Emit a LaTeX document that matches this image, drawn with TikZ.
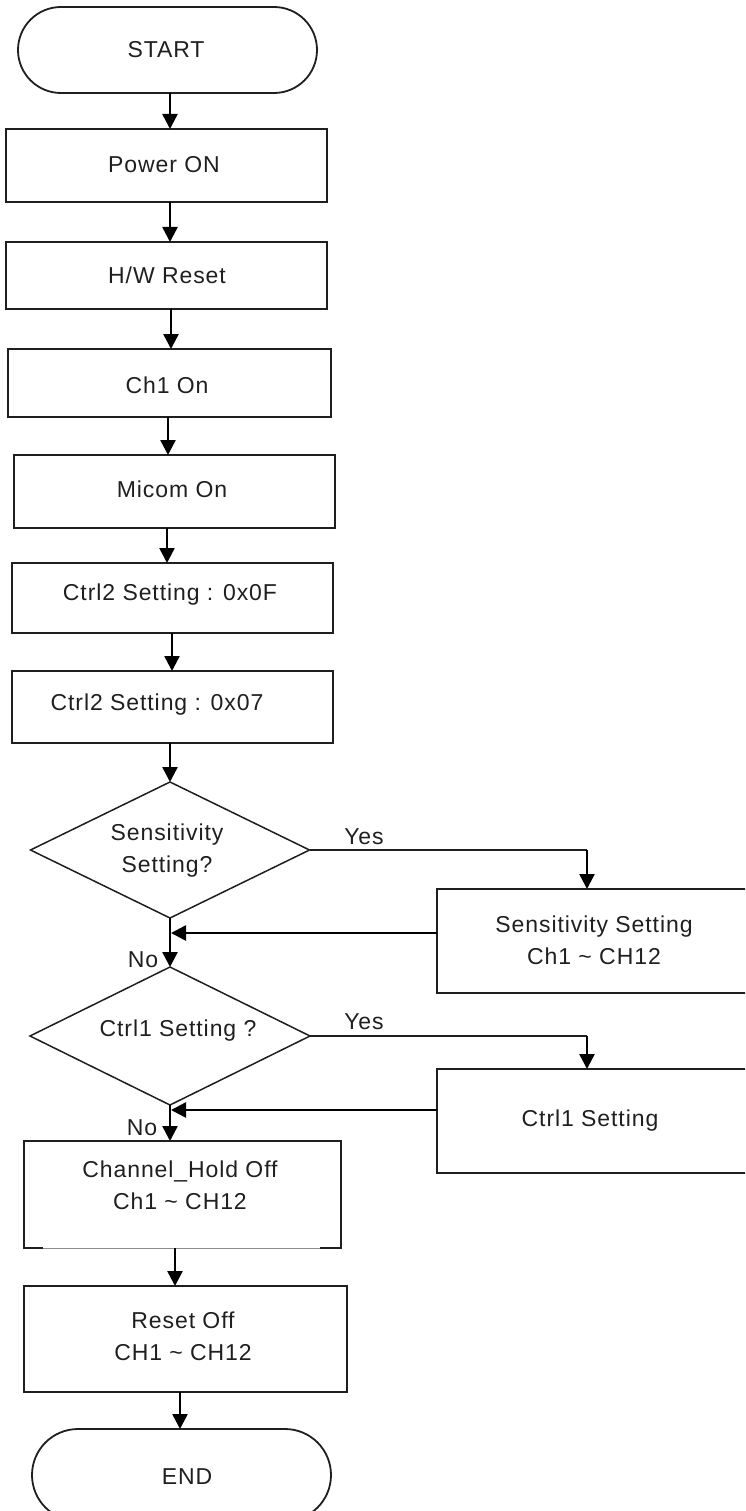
\documentclass[tikz,border=0pt]{standalone}
\usepackage{fontspec}
\setmainfont{Liberation Sans}[LetterSpace=4]
\usetikzlibrary{arrows.meta,shapes.geometric}
\begin{document}
\begin{tikzpicture}[x=1pt,y=-1pt,
  every node/.style={font=\fontsize{23}{32}\selectfont, text=black!88},
  box/.style={draw=black!88, line width=1.8pt, inner sep=0pt, outer sep=0pt},
  term/.style={box, rounded corners=43pt},
  dec/.style={draw=black!88, line width=1.5pt, diamond, inner sep=0pt, outer sep=0pt},
  txt/.style={align=center, inner sep=0pt},
  arr/.style={draw=black, line width=2.5pt, -{Triangle[length=15pt,width=15pt]}},
  yesln/.style={draw=black!88, line width=1.5pt}
]
\useasboundingbox (0,0) rectangle (745,1511);
\clip (0,0) rectangle (745,1511);

% shapes
\node[term, minimum width=299pt, minimum height=86pt] (start) at (167.5,50) {};
\node[box, minimum width=321pt, minimum height=73pt] (pwr) at (166.5,165.5) {};
\node[box, minimum width=321pt, minimum height=67pt] (hw) at (166.5,275.5) {};
\node[box, minimum width=323pt, minimum height=68pt] (ch1) at (169.5,383) {};
\node[box, minimum width=321pt, minimum height=73pt] (mic) at (174.5,491.5) {};
\node[box, minimum width=321pt, minimum height=70pt] (c2f) at (172.5,598) {};
\node[box, minimum width=321pt, minimum height=72pt] (c27) at (172.5,707) {};
\node[dec, minimum width=279pt, minimum height=136pt] (d1) at (170,850) {};
\node[box, minimum width=318pt, minimum height=104pt] (sens) at (596,941) {};
\node[dec, minimum width=280pt, minimum height=138pt] (d2) at (170,1036) {};
\node[box, minimum width=318pt, minimum height=104pt] (c1) at (596,1121) {};
\node[inner sep=0pt, outer sep=0pt, minimum width=317pt, minimum height=107pt] (chan) at (182.5,1194.5) {};
\node[box, minimum width=323pt, minimum height=106pt] (rst) at (185.5,1339) {};
\node[term, rounded corners=46pt, minimum width=299pt, minimum height=92pt] (end) at (181.5,1475) {};

% Channel_Hold box outline (bottom edge lighter)
\draw[draw=black!88, line width=1.8pt] ([xshift=19pt]chan.south west) -- (chan.south west) |- (chan.north east) -- (chan.south east) -- ([xshift=-21pt]chan.south east);
\draw[draw=black!45, line width=1pt] ([xshift=19pt]chan.south west) -- ([xshift=-21pt]chan.south east);

% texts
\node[txt] (tstart) at (166,50) {START};
\node[txt] (tpwr) at (164,165) {Power ON};
\node[txt] (thw) at (167,275) {H/W Reset};
\node[txt] (tch1) at (167,385) {Ch1 On};
\node[txt] (tmic) at (172,489) {Micom On};
\node[txt] (tc2f) at (170,595) {Ctrl2 Setting : 0x0F};
\node[txt] (tc27) at (157,705) {Ctrl2 Setting : 0x07};
\node[txt] (td1) at (167,851) {Sensitivity\\Setting?};
\node[txt] (ty1) at (364,837) {Yes};
\node[txt] (tsens) at (594,940) {Sensitivity Setting\\Ch1 \textasciitilde\ CH12};
\node[txt] (tno1) at (143,960) {No};
\node[txt] (td2) at (178,1031) {Ctrl1 Setting ?};
\node[txt] (ty2) at (364,1022) {Yes};
\node[txt] (tc1) at (590,1121) {Ctrl1 Setting};
\node[txt] (tno2) at (142,1128) {No};
\node[txt] (tchan) at (180,1185) {Channel\_Hold Off\\Ch1 \textasciitilde\ CH12};
\node[txt] (trst) at (183,1336) {Reset Off\\CH1 \textasciitilde\ CH12};
\node[txt] (tend) at (187,1477) {END};

% connector helper coordinates
\coordinate (a1) at (170,0);
\coordinate (a2) at (170,0);
\coordinate (a3) at (171,0);
\coordinate (a4) at (168,0);
\coordinate (a5) at (167,0);
\coordinate (a6) at (172,0);
\coordinate (a7) at (175,0);
\coordinate (a8) at (180,0);
\coordinate (y1) at (587,850);
\coordinate (y2) at (587,1036);
\coordinate (r1) at (171,933);
\coordinate (r2) at (171,1110);

% connectors
\draw[arr] (start.south -| a1) -- (pwr.north -| a1);
\draw[arr] (pwr.south -| a2) -- (hw.north -| a2);
\draw[arr] (hw.south -| a3) -- (ch1.north -| a3);
\draw[arr] (ch1.south -| a4) -- (mic.north -| a4);
\draw[arr] (mic.south -| a5) -- (c2f.north -| a5);
\draw[arr] (c2f.south -| a6) -- (c27.north -| a6);
\draw[arr] (c27.south -| d1.north) -- (d1.north);
\draw[yesln] (d1.east) -- (y1);
\draw[arr] (y1) -- (y1 |- sens.north);
\draw[arr] (sens.west |- r1) -- (r1);
\draw[arr] (d1.south) -- (d2.north);
\draw[yesln] (d2.east) -- (y2);
\draw[arr] (y2) -- (y2 |- c1.north);
\draw[arr] (c1.west |- r2) -- (r2);
\draw[arr] (d2.south) -- (d2.south |- chan.north);
\draw[arr] (chan.south -| a7) -- (rst.north -| a7);
\draw[arr] (rst.south -| a8) -- (end.north -| a8);
\end{tikzpicture}
\end{document}
